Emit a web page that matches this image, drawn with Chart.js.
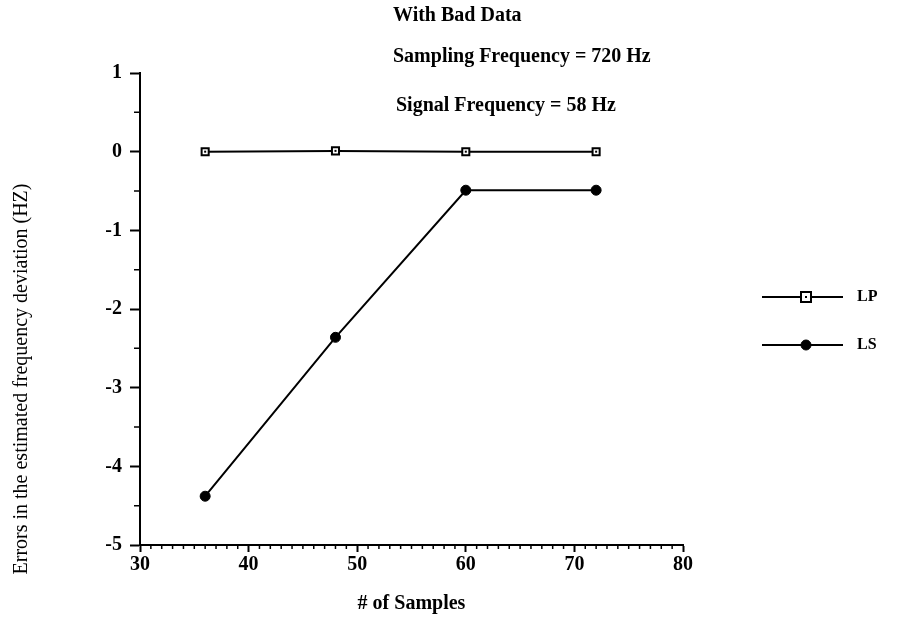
<!DOCTYPE html>
<html>
<head>
<meta charset="utf-8">
<script src="https://cdn.jsdelivr.net/npm/chart.js@4"></script>
<style>
html, body { margin: 0; padding: 0; background: #fff; }
</style>
</head>
<body>
<canvas id="myChart" width="897" height="628"></canvas>
<script>
// data
var samples = [36, 48, 60, 72]
var lpErrors = [0, 0.01, 0, 0]
var lsErrors = [-4.38, -2.36, -0.49, -0.49]
var seriesNames = ['LP', 'LS']
var titleLines = ['With Bad Data', 'Sampling Frequency = 720 Hz', 'Signal Frequency = 58 Hz']
var yAxisTitle = 'Errors in the estimated frequency deviation (HZ)'
var xTickValues = [30, 40, 50, 60, 70, 80]
var yTickValues = [-5, -4, -3, -2, -1, 0, 1]

const serif = '"Liberation Serif", "DejaVu Serif", serif'

function toPoints(xs, ys) {
    return xs.map((x, i) => ({ x: x, y: ys[i] }))
}

function marker(ctx, ds, x, y) {
    const r = ds.pointRadius
    ctx.fillStyle = ds.pointBackgroundColor
    ctx.strokeStyle = ds.pointBorderColor
    ctx.lineWidth = ds.pointBorderWidth
    ctx.beginPath()
    if (ds.pointStyle === 'rect') ctx.rect(x - r, y - r, 2 * r, 2 * r)
    else ctx.arc(x, y, r, 0, Math.PI * 2)
    ctx.fill()
    ctx.stroke()
    if (ds.pointStyle === 'rect') {
        ctx.fillStyle = '#000'
        ctx.fillRect(x - 1, y - 1, 2, 2)
    }
}

// minor ticks, the title lines, y title and the legend on the right
const extras = {
    id: 'extras',
    afterDraw(chart) {
        const ctx = chart.ctx
        const xs = chart.scales.x
        const ys = chart.scales.y
        ctx.save()
        ctx.strokeStyle = '#000'
        ctx.lineWidth = 1.5
        ctx.beginPath()
        for (let v = xs.min + 1; v < xs.max; v++) {
            if (xTickValues.includes(v)) continue
            const px = xs.getPixelForValue(v)
            ctx.moveTo(px, ys.bottom)
            ctx.lineTo(px, ys.bottom + 4)
        }
        for (let v = ys.min + 0.5; v < ys.max; v += 1) {
            const py = ys.getPixelForValue(v)
            ctx.moveTo(xs.left - 6, py)
            ctx.lineTo(xs.left, py)
        }
        ctx.stroke()

        // dots inside the LP squares
        const lp = chart.getDatasetMeta(0)
        lp.data.forEach(p => {
            ctx.fillStyle = '#000'
            ctx.fillRect(p.x - 1, p.y - 1, 2, 2)
        })

        ctx.fillStyle = '#000'
        ctx.font = 'bold 20px ' + serif
        ctx.textAlign = 'left'
        ctx.textBaseline = 'middle'
        const titleX = [393, 393, 396]
        const titleY = [16, 57, 106]
        titleLines.forEach((t, i) => ctx.fillText(t, titleX[i], titleY[i]))

        ctx.save()
        ctx.translate(22, 379)
        ctx.rotate(-Math.PI / 2)
        ctx.textAlign = 'center'
        ctx.font = '20px ' + serif
        ctx.fillText(yAxisTitle, 0, 0)
        ctx.restore()

        chart.data.datasets.forEach((ds, i) => {
            const ly = 297 + 48 * i
            ctx.strokeStyle = ds.borderColor
            ctx.lineWidth = ds.borderWidth
            ctx.beginPath()
            ctx.moveTo(762, ly)
            ctx.lineTo(843, ly)
            ctx.stroke()
            marker(ctx, ds, 806, ly)
            ctx.fillStyle = '#000'
            ctx.font = 'bold 16px ' + serif
            ctx.textAlign = 'left'
            ctx.fillText(ds.label, 857, ly)
        })
        ctx.restore()
    }
}

const ctx = document.getElementById('myChart')
new Chart(ctx, {
    type: 'line',
    data: {
        datasets: [{
            label: seriesNames[0],
            data: toPoints(samples, lpErrors),
            borderColor: '#000',
            borderWidth: 2,
            pointStyle: 'rect',
            pointRadius: 5,
            pointBackgroundColor: '#fff',
            pointBorderColor: '#000',
            pointBorderWidth: 2
        }, {
            label: seriesNames[1],
            data: toPoints(samples, lsErrors),
            borderColor: '#000',
            borderWidth: 2,
            pointStyle: 'circle',
            pointRadius: 5,
            pointBackgroundColor: '#000',
            pointBorderColor: '#000',
            pointBorderWidth: 1
        }]
    },
    options: {
        responsive: false,
        animation: false,
        layout: {
            padding: { left: 0, right: 214, top: 73, bottom: 0 }
        },
        plugins: {
            legend: { display: false },
            tooltip: { enabled: false }
        },
        scales: {
            x: {
                type: 'linear',
                min: xTickValues[0],
                max: xTickValues[xTickValues.length - 1],
                afterBuildTicks: s => { s.ticks = xTickValues.map(v => ({ value: v })) },
                afterFit: s => { s.height = 83 },
                border: { color: '#000', width: 2 },
                grid: { drawOnChartArea: false, tickLength: 7, tickColor: '#000', tickWidth: 2 },
                ticks: { color: '#000', padding: 1, font: { family: serif, size: 20, weight: 'bold' } },
                title: {
                    display: true,
                    text: '# of Samples',
                    color: '#000',
                    padding: { top: 0, bottom: 12 },
                    font: { family: serif, size: 20, weight: 'bold' }
                }
            },
            y: {
                min: yTickValues[0],
                max: yTickValues[yTickValues.length - 1],
                afterBuildTicks: s => { s.ticks = yTickValues.map(v => ({ value: v })) },
                afterFit: s => { s.width = 140 },
                border: { color: '#000', width: 2 },
                grid: { drawOnChartArea: false, tickLength: 10, tickColor: '#000', tickWidth: 2 },
                ticks: { color: '#000', padding: 8, font: { family: serif, size: 20, weight: 'bold' } }
            }
        }
    },
    plugins: [extras]
})
</script>
</body>
</html>
